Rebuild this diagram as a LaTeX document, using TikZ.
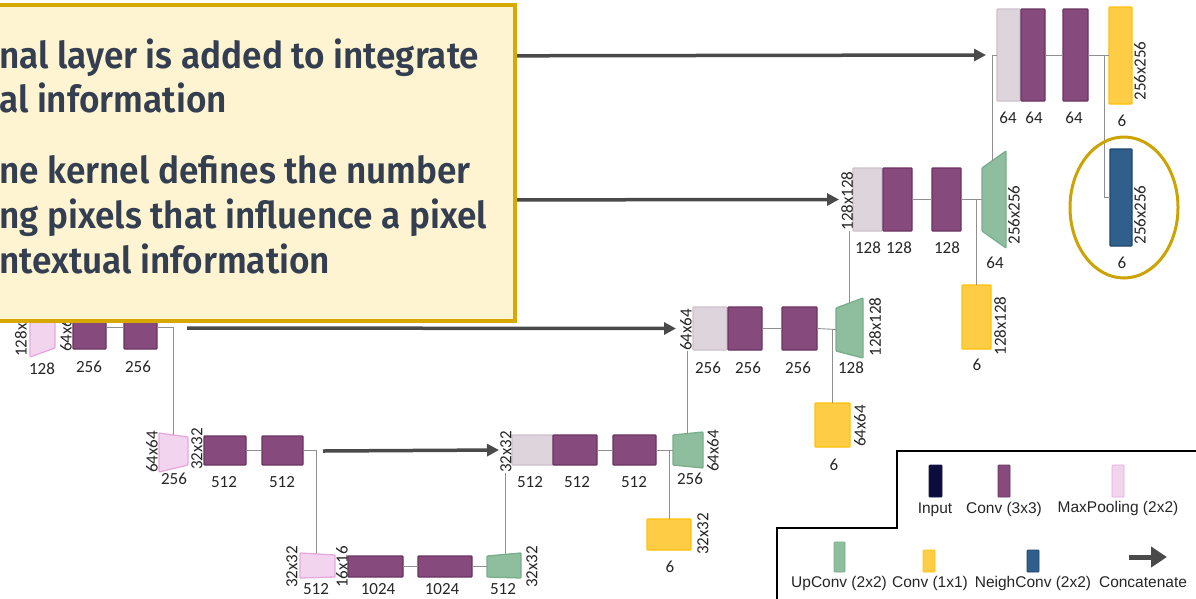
\documentclass[tikz,border=0pt]{standalone}
\usepackage{fontspec}
\usetikzlibrary{arrows.meta,calc}
\newfontfamily\callfont[FakeStretch=0.95]{Fira Sans SemiBold}
\newfontfamily\labfont{Carlito}
\newfontfamily\legfont{Liberation Sans}
\definecolor{convF}{HTML}{874A7D}\definecolor{convD}{HTML}{6A3461}
\definecolor{catF}{HTML}{DDD4DC}\definecolor{catD}{HTML}{CDBFCB}
\definecolor{pinkF}{HTML}{F3D4EE}\definecolor{pinkD}{HTML}{E6A9DE}
\definecolor{grnF}{HTML}{8FBE9F}\definecolor{grnD}{HTML}{78AE8B}
\definecolor{yelF}{HTML}{FFCD45}\definecolor{yelD}{HTML}{FFC10A}
\definecolor{bluF}{HTML}{2F5F8A}\definecolor{bluD}{HTML}{1E466D}
\definecolor{inpF}{HTML}{0D0D3D}\definecolor{inpD}{HTML}{1A1A4A}
\definecolor{lineC}{HTML}{8F8F8F}\definecolor{arrC}{HTML}{4A4A4A}
\definecolor{ellC}{HTML}{CCA300}
\definecolor{boxF}{HTML}{FFF4D2}\definecolor{boxD}{HTML}{D6A800}
\definecolor{callT}{HTML}{333F50}\definecolor{labT}{HTML}{262626}
\newcommand\blk[6]{\node[blk,#2,minimum width={(#5-#3)*1pt},minimum height={(#6-#4)*1pt}] (#1) at ({(#3+#5)/2},{(#4+#6)/2}) {};}
\newcommand\trap[8]{\filldraw[trp,#2] (#3,#5) -- (#4,#7) -- (#4,#8) -- (#3,#6) -- cycle;
  \coordinate (#1-w) at (#3,{(#5+#6)/2}); \coordinate (#1-e) at (#4,{(#7+#8)/2});}
\begin{document}
\begin{tikzpicture}[x=1pt,y=-1pt,
  blk/.style={draw,line width=1.3pt,inner sep=0pt,outer sep=0pt,rounded corners=0.8pt},
  trp/.style={line width=1.3pt,rounded corners=0.8pt},
  conv/.style={fill=convF,draw=convD},
  cat/.style={fill=catF,draw=catD},
  pool/.style={fill=pinkF,draw=pinkD},
  upc/.style={fill=grnF,draw=grnD},
  yel/.style={fill=yelF,draw=yelD},
  blu/.style={fill=bluF,draw=bluD},
  inp/.style={fill=inpF,draw=inpD},
  conn/.style={draw=lineC,line width=0.9pt},
  concat/.style={draw=arrC,line width=3.5pt,-{Triangle[length=12pt,width=12pt]}},
  lab/.style={font=\labfont\fontsize{17}{20}\selectfont,text=labT,inner sep=0pt},
  rlab/.style={lab,rotate=90},
  leg/.style={font=\legfont\fontsize{15.5}{18}\selectfont,text=labT,inner sep=0pt,anchor=base},
  ctext/.style={font=\callfont\fontsize{37}{44}\selectfont,text=callT,inner sep=0pt,anchor=base west}]
\useasboundingbox (0,0) rectangle (1196,598);
\clip (0,0) rectangle (1196,598);
\fill[white] (0,0) rectangle (1196,598);

% ---------- encoder 64x64 (partly hidden) ----------
\trap{P64}{pool}{30}{55}{296}{357}{304}{348}
\blk{C64ea}{conv}{73}{306}{106}{349}
\blk{C64eb}{conv}{124}{306}{157}{349}
\node[rlab,anchor=west] (lP64a) at (21,357) {128x128};
\node[rlab,anchor=west] (lP64b) at (66,352) {64x64};
\node[lab] (nP64) at (42,369) {128};
\node[lab] (nC64ea) at (89,367) {256};
\node[lab] (nC64eb) at (138,367) {256};
\draw[conn] (C64ea.east) -- (C64eb.west);
\coordinate (p32top) at (173,435);
\draw[conn] (C64eb.east) -| (p32top);

% ---------- encoder 32x32 ----------
\trap{P32}{pool}{159}{188}{433}{472}{437}{465}
\blk{C32ea}{conv}{204}{436}{246}{465}
\blk{C32eb}{conv}{262}{436}{303}{465}
\node[rlab] (lP32a) at (152,452) {64x64};
\node[rlab] (lP32b) at (197,449) {32x32};
\node[lab] (nP32) at (174,479) {256};
\node[lab] (nC32ea) at (224,482) {512};
\node[lab] (nC32eb) at (282,482) {512};
\draw[conn] (C32ea.east) -- (C32eb.west);
\coordinate (p16top) at (316,554);
\draw[conn] (C32eb.east) -| (p16top);

% ---------- bottleneck 16x16 ----------
\trap{P16}{pool}{300}{335}{553}{578}{555}{577}
\blk{C16a}{conv}{348}{556}{403}{577}
\blk{C16b}{conv}{418}{556}{472}{577}
\trap{U32}{upc}{487}{521}{556}{577}{553}{578}
\node[rlab] (lP16a) at (292,567) {32x32};
\node[rlab] (lP16b) at (342,567) {16x16};
\node[rlab] (lU32) at (532,567) {32x32};
\node[lab] (nP16) at (316,589) {512};
\node[lab] (nC16a) at (378,589) {1024};
\node[lab] (nC16b) at (442,589) {1024};
\node[lab] (nU32) at (503,589) {512};
\draw[conn] (C16a.east) -- (C16b.west);
\draw[conn] (C16b.east) -- (U32-w);

% ---------- decoder 32x32 ----------
\blk{L32}{cat}{512}{435}{553}{465}
\blk{C32a}{conv}{553}{435}{597}{465}
\blk{C32b}{conv}{613}{435}{656}{465}
\trap{U64}{upc}{673}{703}{435}{465}{432}{468}
\blk{Y32}{yel}{647}{519}{691}{550}
\node[rlab] (lL32) at (506,452) {32x32};
\node[rlab] (lU64) at (713,451) {64x64};
\node[rlab] (lY32) at (703,534) {32x32};
\node[lab] (nL32) at (530,482) {512};
\node[lab] (nC32a) at (577,482) {512};
\node[lab] (nC32b) at (634,482) {512};
\node[lab] (nU64) at (690,479) {256};
\node[lab] (nY32) at (670,567) {6};
\draw[conn] (C32a.east) -- (C32b.west);
\draw[conn] (C32b.east) -- (U64-w);
\draw[conn] (Y32.north) -- (Y32.north |- C32b.east);
\coordinate (s32) at (505.5,555);
\draw[conn] (s32) -- (s32 |- lL32.west);

% ---------- decoder 64x64 ----------
\blk{L64}{cat}{693}{307}{727}{350}
\blk{C64a}{conv}{728}{307}{762}{350}
\blk{C64b}{conv}{782}{307}{817}{350}
\trap{U128}{upc}{836}{863}{308}{351}{298}{358}
\blk{Y64}{yel}{815}{403}{850}{447}
\node[rlab] (lL64) at (686,330) {64x64};
\node[rlab] (lU128) at (875,327) {128x128};
\node[rlab] (lY64) at (860,426) {64x64};
\node[lab] (nL64) at (708,368) {256};
\node[lab] (nC64a) at (748,368) {256};
\node[lab] (nC64b) at (798,368) {256};
\node[lab] (nU128) at (851,368) {128};
\node[lab] (nY64) at (834,465) {6};
\draw[conn] (C64a.east) -- (C64b.west);
\draw[conn] (C64b.east) -- (U128-w);
\draw[conn] (Y64.north) -- (Y64.north |- C64b.east);
\coordinate (s64) at (687,434);
\draw[conn] (s64) -- (s64 |- lL64.west);

% ---------- decoder 128x128 ----------
\blk{L128}{cat}{853}{168}{882}{231}
\blk{C128a}{conv}{883}{168}{912}{231}
\blk{C128b}{conv}{932}{168}{961}{231}
\trap{U256}{upc}{982}{1006}{168}{231}{151}{248}
\blk{Y128}{yel}{962}{285}{991}{349}
\node[rlab] (lL128) at (847,201) {128x128};
\node[rlab] (lU256) at (1014,215) {256x256};
\node[rlab] (lY128) at (1000,326) {128x128};
\node[lab] (nL128) at (868,248) {128};
\node[lab] (nC128a) at (899,248) {128};
\node[lab] (nC128b) at (947,248) {128};
\node[lab] (nU256) at (995,263) {64};
\node[lab] (nY128) at (977,365) {6};
\draw[conn] (C128a.east) -- (C128b.west);
\draw[conn] (C128b.east) -- (U256-w);
\draw[conn] (Y128.north) -- (Y128.north |- C128b.east);
\coordinate (s128) at (849,303);
\draw[conn] (s128) -- (s128 |- lL128.west);

% ---------- decoder 256x256 ----------
\blk{L256}{cat}{997}{9}{1020}{101}
\blk{C256a}{conv}{1021}{9}{1045}{101}
\blk{C256b}{conv}{1063}{9}{1088}{101}
\blk{Y256}{yel}{1109}{7}{1132}{104}
\blk{B256}{blu}{1110}{149}{1132}{246}
\node[rlab] (lY256) at (1140,71) {256x256};
\node[rlab] (lB256) at (1140,215) {256x256};
\node[lab] (nL256) at (1008,118) {64};
\node[lab] (nC256a) at (1034,118) {64};
\node[lab] (nC256b) at (1074,118) {64};
\node[lab] (nY256) at (1122,121) {6};
\node[lab] (nB256) at (1122,263) {6};
\draw[conn] (C256a.east) -- (C256b.west);
\draw[conn] (C256b.east) -- (C256b.east -| Y256.west);
\coordinate (br256) at (1104,55);
\draw[conn] (br256) |- (B256.west);
\coordinate (s256) at (992,161);
\draw[conn] (s256) |- (L256.west);
\draw[ellC,line width=3pt] (1124,207.5) ellipse [x radius=54, y radius=70.5];

% ---------- concatenation arrows ----------
\coordinate (a256) at (400,56);
\coordinate (a128) at (400,200);
\coordinate (a64) at (187,328);
\coordinate (a32) at (323,451);
\draw[concat] (a256) -- ([xshift=-11pt]L256.west);
\draw[concat] (a128) -- ([xshift=-14pt]L128.west);
\draw[concat] (a64) -- ([xshift=-17pt]L64.west);
\draw[concat] (a32) -- ([xshift=-13pt]L32.west);

% ---------- legend ----------
\draw[black,line width=2pt] (1200,451) -- (897,451) -- (897,528) -- (777,528) -- (777,602);
\blk{gInp}{inp,line width=0.8pt}{929}{465}{942}{497}
\blk{gConv}{conv,line width=0.8pt}{998}{465}{1010}{497}
\blk{gPool}{pool,line width=0.8pt}{1112}{465}{1124}{497}
\blk{gUp}{upc,line width=0.8pt}{834}{542}{845}{572}
\blk{gYel}{yel,line width=0.8pt}{923}{550}{935}{572}
\blk{gBlu}{blu,line width=0.8pt}{1027}{550}{1039}{572}
\coordinate (gA1) at (1129,557);
\coordinate (gA2) at (1167,557);
\draw[draw=arrC,line width=5pt,-{Triangle[length=16pt,width=20pt]}] (gA1) -- (gA2);
\node[leg] (tInp) at (935,513) {Input};
\node[leg] (tConv) at (1004,513) {Conv (3x3)};
\node[leg] (tPool) at (1118,512) {MaxPooling (2x2)};
\node[leg] (tUp) at (839,587) {UpConv (2x2)};
\node[leg] (tYel) at (930,587) {Conv (1x1)};
\node[leg] (tBlu) at (1033,587) {NeighConv (2x2)};
\node[leg] (tA) at (1143,587) {Concatenate};

% ---------- callout ----------
\filldraw[fill=boxF,draw=boxD,line width=4pt] (-20,4.5) rectangle (514.5,320.5);
\node[ctext] (t1) at (-1,68) {nal layer is added to integrate};
\node[ctext] (t2) at (-1,112) {al information};
\node[ctext] (t3) at (-1,183) {ne kernel defines the number};
\node[ctext] (t4) at (-1,228) {ng pixels that influence a pixel};
\node[ctext] (t5) at (-1,273) {ntextual information};
\end{tikzpicture}
\end{document}
